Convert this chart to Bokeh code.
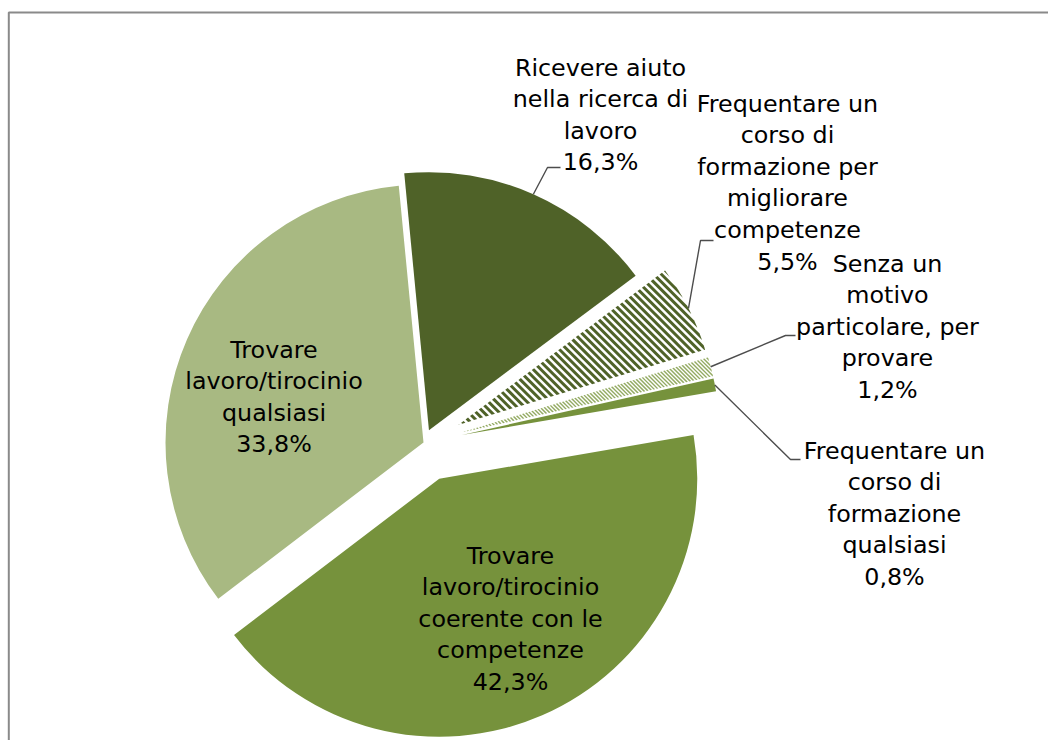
import math
from bokeh.plotting import figure
from bokeh.models import Range1d, ColumnDataSource
from bokeh.embed import file_html
from bokeh.resources import INLINE
from bokeh.core.properties import value

# ---------------- data ----------------
categories = [
    "Ricevere aiuto\nnella ricerca di\nlavoro",
    "Frequentare un\ncorso di\nformazione per\nmigliorare\ncompetenze",
    "Senza un\nmotivo\nparticolare, per\nprovare",
    "Frequentare un\ncorso di\nformazione\nqualsiasi",
    "Trovare\nlavoro/tirocinio\ncoerente con le\ncompetenze",
    "Trovare\nlavoro/tirocinio\nqualsiasi",
]
values = [16.3, 5.5, 1.2, 0.8, 42.3, 33.8]

# ---------------- layout / style ----------------
CX, CY = 423.0, 442.0          # pie centre (screen px)
RADIUS = 258.0
START_DEG = -5.5               # first slice start, clockwise from 12 o'clock
explode = [13.5, 39.0, 39.0, 39.0, 39.5, 0.0]

fills = ["#4F6228", None, None, "#76923C", "#76923C", "#A8B982"]
# striped slices: (stripe colour, period along x, stripe width along x)
stripes = [None, ("#4F6228", 7.7, 4.2), ("#93AA62", 4.0, 2.0), None, None, None]

# label anchor: centre x, first baseline y (screen px)
TEXT_DY = -8.0
label_x = [600.0, 787.0, 887.0, 894.0, 510.0, 273.5]
label_y0 = [75.0, 111.0, 271.0, 458.0, 563.0, 357.0]
LINE_STEP = 31.6
# leader lines: elbow and end point (screen px); None = no leader
leader_pts = [
    ((547.0, 167.0), (560.0, 167.0)),
    ((700.0, 240.0), (713.0, 240.0)),
    ((785.0, 335.0), (795.0, 335.0)),
    ((790.0, 459.0), (800.0, 459.0)),
    None,
    None,
]

FONT = "DejaVu Sans"
FONT_SIZE = "23.8px"

W, H = 1048, 740
p = figure(width=W, height=H, x_range=Range1d(0, W), y_range=Range1d(-H, 0),
           output_backend="svg", toolbar_location=None, min_border=0,
           x_axis_type=None, y_axis_type=None, outline_line_color=None,
           background_fill_color="white", border_fill_color="white")
p.grid.visible = False


def sector_poly(tx, ty, t1, t2, r, n=80):
    pts = [(tx, ty)]
    for k in range(n + 1):
        a = math.radians(t1 + (t2 - t1) * k / n)
        pts.append((tx + r * math.sin(a), ty - r * math.cos(a)))
    return pts


def clip(poly, a, b, c):
    """keep part of convex polygon with a*x + b*y <= c"""
    out = []
    n = len(poly)
    for i in range(n):
        P, Q = poly[i], poly[(i + 1) % n]
        fp = a * P[0] + b * P[1] - c
        fq = a * Q[0] + b * Q[1] - c
        if fp <= 0:
            out.append(P)
        if fp * fq < 0:
            t = fp / (fp - fq)
            out.append((P[0] + t * (Q[0] - P[0]), P[1] + t * (Q[1] - P[1])))
    return out


total = sum(values)
theta = START_DEG
for i, v in enumerate(values):
    span = 360.0 * v / total
    t1, t2 = theta, theta + span
    mid = math.radians((t1 + t2) / 2.0)
    ux, uy = math.sin(mid), -math.cos(mid)        # screen direction
    tx, ty = CX + explode[i] * ux, CY + explode[i] * uy

    if fills[i] is not None:
        sa = math.radians(90.0 - t2)
        ea = math.radians(90.0 - t1)
        src = ColumnDataSource(dict(x=[tx], y=[-ty], sa=[sa], ea=[ea]))
        p.wedge(x="x", y="y", radius=RADIUS, start_angle="sa", end_angle="ea",
                source=src, fill_color=fills[i], line_color=None)
    if stripes[i] is not None:
        col, period, width = stripes[i]
        poly = sector_poly(tx, ty, t1, t2, RADIUS)
        s_vals = [x - y for x, y in poly]          # "\" stripes: x - y = const
        c0 = math.floor(min(s_vals) / period) * period
        xs, ys = [], []
        while c0 < max(s_vals):
            part = clip(poly, 1.0, -1.0, c0 + width)
            part = clip(part, -1.0, 1.0, -c0) if part else []
            if len(part) >= 3:
                xs.append([q[0] for q in part])
                ys.append([-q[1] for q in part])
            c0 += period
        p.patches(xs=xs, ys=ys, fill_color=col, line_color=None)

    # leader line
    if leader_pts[i] is not None:
        sx, sy = tx + RADIUS * ux, ty + RADIUS * uy
        (ex, ey), (fx, fy) = leader_pts[i]
        p.line(x=[sx, ex, fx], y=[-sy, -ey, -fy], line_color="#4d4d4d", line_width=1.4)

    # label text
    pct = f"{v:.1f}".replace(".", ",") + "%"
    lines = categories[i].split("\n") + [pct]
    lx = [label_x[i]] * len(lines)
    ly = [-(label_y0[i] + TEXT_DY + k * LINE_STEP) for k in range(len(lines))]
    p.text(x=lx, y=ly, text=lines, text_font=value(FONT), text_font_size=value(FONT_SIZE),
           text_align="center", text_baseline="alphabetic", text_color="#000000")
    theta = t2

# chart frame (top and left edges visible)
p.line(x=[8.3, 8.3, W], y=[-H, -12, -12], line_color="#8a8a8a", line_width=2)

open("out.html", "w").write(file_html(p, INLINE))
